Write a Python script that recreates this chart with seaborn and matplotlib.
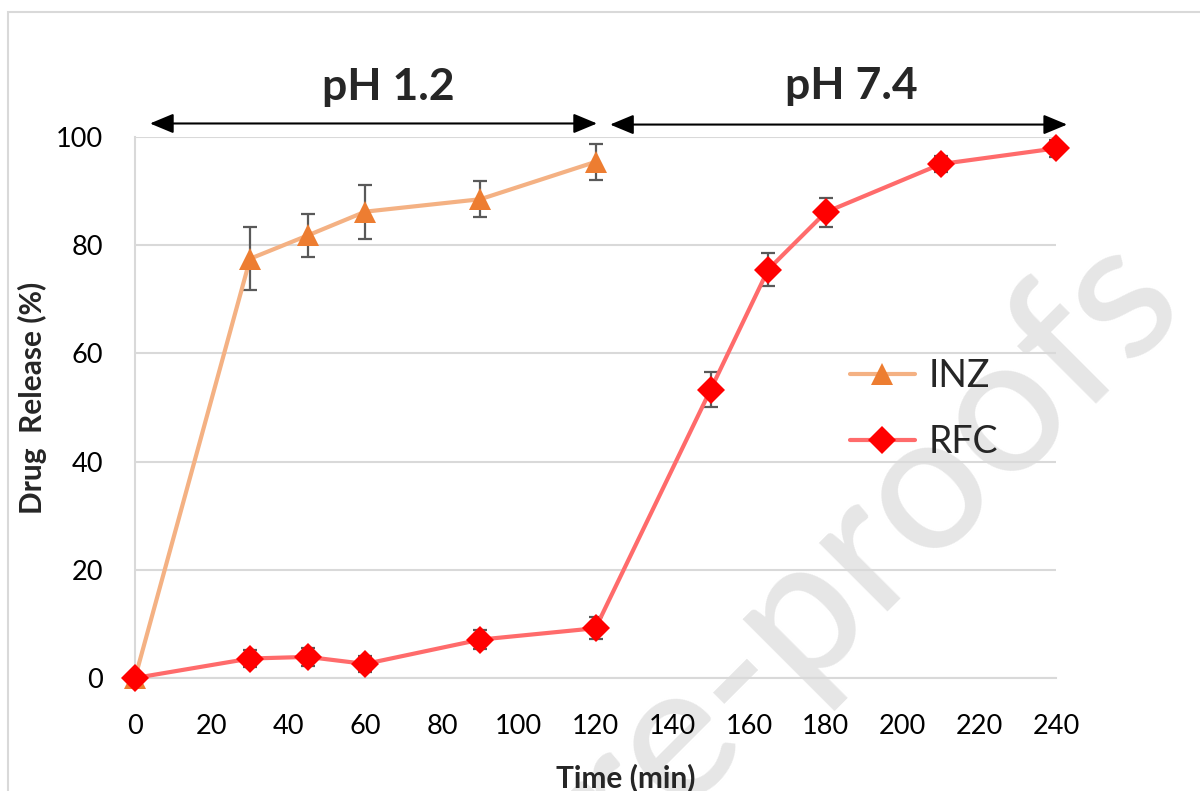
import matplotlib
matplotlib.use("Agg")
import matplotlib.pyplot as plt
import numpy as np
import pandas as pd
import seaborn as sns
from matplotlib.lines import Line2D
from matplotlib.patches import Rectangle

# Cumulative drug release (%) over time (min), mean and SD
inz_time = [0, 30, 45, 60, 90, 120]
inz_release = [0, 77.5, 81.8, 86.2, 88.5, 95.4]
inz_sd = [0, 5.8, 4.0, 5.0, 3.3, 3.3]

rfc_time = [0, 30, 45, 60, 90, 120, 150, 165, 180, 210, 240]
rfc_release = [0, 3.6, 3.9, 2.6, 7.1, 9.2, 53.3, 75.5, 86.1, 95.0, 97.9]
rfc_sd = [0, 1.5, 1.6, 1.4, 1.8, 2.0, 3.3, 3.0, 2.7, 1.5, 1.6]

drugs = ["INZ", "RFC"]
x_ticks = list(range(0, 241, 20))
y_ticks = list(range(0, 101, 20))
phases = ["pH 1.2", "pH 7.4"]

df = pd.concat([
    pd.DataFrame({"time": inz_time, "release": inz_release, "sd": inz_sd, "drug": "INZ"}),
    pd.DataFrame({"time": rfc_time, "release": rfc_release, "sd": rfc_sd, "drug": "RFC"}),
], ignore_index=True)

line_colors = {"INZ": "#F4B183", "RFC": "#FF6B6B"}
marker_colors = {"INZ": "#ED7D31", "RFC": "#FF0000"}
markers = {"INZ": "^", "RFC": "D"}
marker_sizes = {"INZ": 16, "RFC": 14}

sns.set_style("white")
plt.rcParams["font.family"] = ["Lato", "DejaVu Sans"]

fig = plt.figure(figsize=(12, 7.91), dpi=100)
ax = fig.add_axes([0.1125, 0.14286, 0.7675, 0.68394])
ax.patch.set_alpha(0)

# Faint watermark behind the chart
fig.text(0.991, 0.608, "Journal Pre-proofs", rotation=45, rotation_mode="anchor",
         ha="right", va="baseline", fontsize=138, fontweight="medium",
         color="#E6E6E6", zorder=-5)

# Light frame around the figure
fig.patches.append(Rectangle((8 / 1200, -0.1), 1.2, 1 - 12 / 791 + 0.1,
                             transform=fig.transFigure, fill=False,
                             edgecolor="#D9D9D9", lw=1.5, zorder=-6))

for drug in drugs:
    sub = df[df["drug"] == drug]
    err = sub[sub["sd"] > 0]
    ax.errorbar(err["time"], err["release"], yerr=err["sd"], fmt="none",
                ecolor="#595959", elinewidth=1.6, capsize=4.8, capthick=1.6, zorder=2)
    sns.lineplot(data=sub, x="time", y="release", ax=ax, color=line_colors[drug],
                 linewidth=3, marker=markers[drug], markersize=marker_sizes[drug],
                 markerfacecolor=marker_colors[drug], markeredgewidth=0,
                 errorbar=None, legend=False, zorder=3)
    ln = ax.lines[-1]
    ln.set_markerfacecolor(marker_colors[drug])
    ln.set_markeredgecolor(marker_colors[drug])
    ln.set_clip_on(False)

ax.set_xlim(0, 240)
ax.set_ylim(0, 100)
ax.set_xticks(x_ticks)
ax.set_yticks(y_ticks)
ax.grid(axis="y", color="#D9D9D9", lw=1.5)
ax.grid(axis="x", visible=False)
for side in ["top", "right"]:
    ax.spines[side].set_visible(False)
for side in ["left", "bottom"]:
    ax.spines[side].set_color("#D9D9D9")
    ax.spines[side].set_linewidth(1.5)
ax.tick_params(axis="both", length=0, labelsize=19.5, colors="black")
ax.tick_params(axis="y", pad=23)
ax.tick_params(axis="x", pad=26)

ax.set_xlabel("Time (min)", fontsize=21.5, fontweight="bold")
ax.set_ylabel("Drug  Release (%)", fontsize=21.5, fontweight="bold")
ax.xaxis.set_label_coords(0.533, -0.157)
ax.yaxis.set_label_coords(-0.0955, 0.518)

# Phase arrows and labels
arrow_style = "<|-|>,head_length=0.6,head_width=0.25"
ax.annotate("", xy=(3.9, 102.5), xytext=(120.4, 102.5), annotation_clip=False,
            arrowprops=dict(arrowstyle=arrow_style, color="black", lw=1.5,
                            mutation_scale=24, shrinkA=0, shrinkB=0))
ax.annotate("", xy=(123.8, 102.3), xytext=(242.9, 102.3), annotation_clip=False,
            arrowprops=dict(arrowstyle=arrow_style, color="black", lw=1.5,
                            mutation_scale=24, shrinkA=0, shrinkB=0))
ax.text(65.9, 106.8, phases[0], ha="center", va="baseline", fontsize=32,
        fontweight="bold", clip_on=False)
ax.text(186.6, 107.1, phases[1], ha="center", va="baseline", fontsize=32,
        fontweight="bold", clip_on=False)

handles = [Line2D([], [], color=line_colors[d], lw=3, marker=markers[d],
                  markersize=marker_sizes[d], markerfacecolor=marker_colors[d],
                  markeredgecolor=marker_colors[d], markeredgewidth=0) for d in drugs]
ax.legend(handles, drugs, loc="center left", bbox_to_anchor=(0.708, 0.483),
          bbox_transform=fig.transFigure, frameon=False, fontsize=27,
          handlelength=1.75, handletextpad=0.35, labelspacing=0.8,
          borderpad=0, borderaxespad=0)

fig.savefig("out.png", dpi=100)
